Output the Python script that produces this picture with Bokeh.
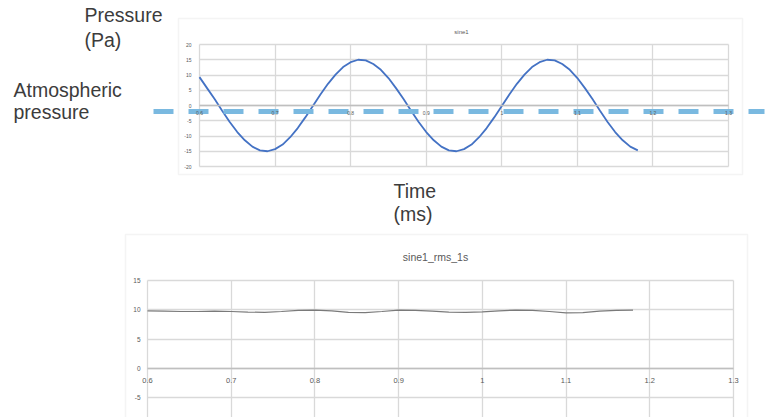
from bokeh.plotting import figure
from bokeh.models import (FixedTicker, Label, BoxAnnotation, Range1d, LinearAxis, Grid)
from bokeh.layouts import column
from bokeh.embed import file_html
from bokeh.resources import INLINE

# ---------------- data ----------------
time_ms = [0.60, 0.61, 0.62, 0.63, 0.64, 0.65, 0.66, 0.67, 0.68, 0.69,
           0.70, 0.71, 0.72, 0.73, 0.74, 0.75, 0.76, 0.77, 0.78, 0.79,
           0.80, 0.81, 0.82, 0.83, 0.84, 0.85, 0.86, 0.87, 0.88, 0.89,
           0.90, 0.91, 0.92, 0.93, 0.94, 0.95, 0.96, 0.97, 0.98, 0.99,
           1.00, 1.01, 1.02, 1.03, 1.04, 1.05, 1.06, 1.07, 1.08, 1.09,
           1.10, 1.11, 1.12, 1.13, 1.14, 1.15, 1.16, 1.17, 1.18]
pressure_pa = [9.3, 5.7, 2.1, -1.7, -5.4, -8.7, -11.4, -13.5, -14.7, -15.0,
               -14.3, -12.8, -10.4, -7.4, -3.9, -0.2, 3.6, 7.1, 10.1, 12.6,
               14.2, 15.0, 14.8, 13.6, 11.7, 9.0, 5.7, 2.1, -1.7, -5.4,
               -8.7, -11.4, -13.5, -14.7, -15.0, -14.3, -12.8, -10.4, -7.4, -3.9,
               -0.2, 3.6, 7.1, 10.1, 12.6, 14.2, 15.0, 14.8, 13.6, 11.7,
               9.0, 5.7, 2.1, -1.7, -5.4, -8.7, -11.4, -13.5, -14.7]

rms_time = [0.60, 0.62, 0.64, 0.66, 0.68, 0.70, 0.72, 0.74, 0.76, 0.78,
            0.80, 0.82, 0.84, 0.86, 0.88, 0.90, 0.92, 0.94, 0.96, 0.98,
            1.00, 1.02, 1.04, 1.06, 1.08, 1.10, 1.12, 1.14, 1.16, 1.18]
rms_pa = [9.8, 9.75, 9.7, 9.7, 9.75, 9.7, 9.6, 9.55, 9.7, 9.9,
          9.95, 9.8, 9.55, 9.5, 9.7, 9.95, 9.9, 9.75, 9.6, 9.55,
          9.65, 9.8, 9.95, 9.9, 9.7, 9.45, 9.5, 9.75, 9.9, 9.95]

atm_level = -2.0

x_ticks = [0.6, 0.7, 0.8, 0.9, 1.0, 1.1, 1.2, 1.3]
x_tick_labels = ["0.6", "0.7", "0.8", "0.9", "1", "1.1", "1.2", "1.3"]
top_y_ticks = [-20, -15, -10, -5, 0, 5, 10, 15, 20]
top_y_labels = ["-20", "-15", "-10", "-5", "0", "5", "10", "15", "20"]
bot_y_ticks = [-10, -5, 0, 5, 10, 15]
bot_y_labels = ["-10", "-5", "0", "5", "10", "15"]

top_title = "sine1"
bot_title = "sine1_rms_1s"

# ---------------- style ----------------
GRID = "#d9d9d9"
AXIS0 = "#bfbfbf"
TXT = "#595959"
BIG = "#3c3c3c"
FONT = "Liberation Sans"


def make_chart(width, height, px_box, val_box):
    """px_box = (left, right, top, bottom) pixel edges of the plot area,
    val_box = (x_lo, x_hi, y_top, y_bottom) data values at those edges."""
    l, r, t, b = px_box
    x_lo, x_hi, y_top, y_bot = val_box
    kx = (x_hi - x_lo) / (r - l)
    ky = (y_top - y_bot) / (b - t)
    xr = Range1d(x_lo - l * kx, x_hi + (width - r) * kx)
    yr = Range1d(y_bot - (height - b) * ky, y_top + t * ky)
    p = figure(width=width, height=height, x_range=xr, y_range=yr,
               output_backend="svg", toolbar_location=None,
               x_axis_location=None, y_axis_location=None, min_border=0,
               title=None, frame_align=False)
    p.outline_line_color = None
    p.center = []
    return p, kx, xr


def style_axis(ax, font_size, standoff):
    ax.major_tick_line_color = None
    ax.minor_tick_line_color = None
    ax.major_tick_out = 0
    ax.major_tick_in = 0
    ax.minor_tick_out = 0
    ax.minor_tick_in = 0
    ax.major_label_text_font = FONT
    ax.major_label_text_font_size = font_size
    ax.major_label_text_color = TXT
    ax.major_label_standoff = standoff


def add_grid_axes(p, yticks, ylabels, yfont, ystand, xfont, xstand):
    x0, x1 = x_ticks[0], x_ticks[-1]
    y0, y1 = yticks[0], yticks[-1]
    if "cross_bounds" in Grid.properties():
        gx = Grid(dimension=0, ticker=FixedTicker(ticks=x_ticks),
                  grid_line_color=GRID, grid_line_width=1.3, cross_bounds=(y0, y1))
        gy = Grid(dimension=1, ticker=FixedTicker(ticks=yticks),
                  grid_line_color=GRID, grid_line_width=1.3, cross_bounds=(x0, x1))
        p.add_layout(gx, "center")
        p.add_layout(gy, "center")
    else:
        p.segment(x0=x_ticks, y0=[y0] * len(x_ticks), x1=x_ticks, y1=[y1] * len(x_ticks),
                  line_color=GRID, line_width=1.3)
        p.segment(x0=[x0] * len(yticks), y0=yticks, x1=[x1] * len(yticks), y1=yticks,
                  line_color=GRID, line_width=1.3)

    yax = LinearAxis(fixed_location=x0, ticker=FixedTicker(ticks=yticks),
                     bounds=(y0, y1))
    yax.major_label_overrides = {t: s for t, s in zip(yticks, ylabels)}
    yax.axis_line_color = None
    style_axis(yax, yfont, ystand)
    p.add_layout(yax, "left")

    xax = LinearAxis(fixed_location=0, ticker=FixedTicker(ticks=x_ticks),
                     bounds=(x0, x1))
    xax.major_label_overrides = {t: s for t, s in zip(x_ticks, x_tick_labels)}
    xax.axis_line_color = AXIS0
    xax.axis_line_width = 1.6
    style_axis(xax, xfont, xstand)
    p.add_layout(xax, "below")


# ---------------- top chart ----------------
top, kx_top, xr_top = make_chart(778, 228, (199, 728, 44, 166),
                                 (x_ticks[0], x_ticks[-1], top_y_ticks[-1], top_y_ticks[0]))
top.add_layout(BoxAnnotation(left=178, right=742, top=18, bottom=174,
                             left_units="canvas", right_units="canvas",
                             top_units="canvas", bottom_units="canvas",
                             fill_alpha=0, line_color=GRID, line_width=1.5,
                             level="underlay"))
add_grid_axes(top, top_y_ticks, top_y_labels, "5px", 8, "5px", 5)

top.line(time_ms, pressure_pa, line_color="#4472c4", line_width=1.8)

# atmospheric-pressure reference line, running from x=153px to x=764px
atm_x = [xr_top.start + 153 * kx_top, xr_top.start + 764 * kx_top]
top.line(atm_x, [atm_level, atm_level], line_color="#7ab9e0", line_width=5,
         line_dash="20 15")

top.add_layout(Label(x=461, y=31, x_units="canvas", y_units="canvas", text=top_title,
                     text_align="center", text_baseline="middle", text_font=FONT,
                     text_font_size="6px", text_color=TXT))

for txt, x, y in [("Pressure", 84, 14), ("(Pa)", 84, 39),
                  ("Atmospheric", 13, 89), ("pressure", 13, 111),
                  ("Time", 393, 190), ("(ms)", 393, 213)]:
    top.add_layout(Label(x=x, y=y, x_units="canvas", y_units="canvas", text=txt,
                         text_align="left", text_baseline="alphabetic",
                         text_font=FONT, text_font_size="19.5px", text_color=BIG))

# ---------------- bottom chart ----------------
bot, kx_bot, xr_bot = make_chart(778, 189, (147, 733, 52, 169),
                                 (x_ticks[0], x_ticks[-1], bot_y_ticks[-1], bot_y_ticks[1]))
bot.add_layout(BoxAnnotation(left=125, right=747, top=6, bottom=300,
                             left_units="canvas", right_units="canvas",
                             top_units="canvas", bottom_units="canvas",
                             fill_alpha=0, line_color=GRID, line_width=1.5,
                             level="underlay"))
add_grid_axes(bot, bot_y_ticks, bot_y_labels, "6.5px", 7, "7.5px", 10)

bot.line(rms_time, rms_pa, line_color="#7a7a7a", line_width=1.2)

bot.add_layout(Label(x=435, y=28, x_units="canvas", y_units="canvas", text=bot_title,
                     text_align="center", text_baseline="middle", text_font=FONT,
                     text_font_size="10.5px", text_color=TXT))

layout = column(top, bot, spacing=0)
open("out.html", "w").write(file_html(layout, INLINE))
